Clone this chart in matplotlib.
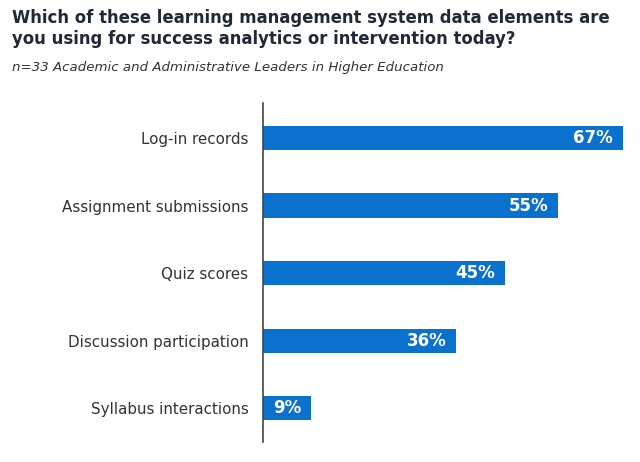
"""
Horizontal bar chart: LMS data elements used for success analytics.
"""
import matplotlib
matplotlib.use('Agg')
import matplotlib.pyplot as plt
from matplotlib.transforms import offset_copy

categories = ['Log-in records', 'Assignment submissions', 'Quiz scores',
              'Discussion participation', 'Syllabus interactions']
values = [67, 55, 45, 36, 9]
value_labels = ['67%', '55%', '45%', '36%', '9%']

title = ('Which of these learning management system data elements are\n'
         'you using for success analytics or intervention today?')
subtitle = 'n=33 Academic and Administrative Leaders in Higher Education'

BAR_COLOR = '#0a72cc'
TEXT_COLOR = '#333333'
TITLE_COLOR = '#1f2a36'

plt.rcParams['font.family'] = ['DejaVu Sans']

fig = plt.figure(figsize=(6.4, 4.62), dpi=100)
W, H = 640, 462
ax = fig.add_axes([263 / W, 1 - 442 / H, (640 - 263) / W, (442 - 103) / H])

y = list(range(len(categories)))
ax.barh(y, values, height=0.36, color=BAR_COLOR)
ax.set_xlim(0, 377 / 5.37)
ax.set_ylim(4.5, -0.52)

for yi, v, lab in zip(y, values, value_labels):
    tr = offset_copy(ax.transData, fig=fig, x=-10, y=0, units='dots')
    ax.text(v, yi, lab, transform=tr, ha='right', va='center',
            color='white', fontsize=12, fontweight='bold')

ax.set_yticks(y)
ax.set_yticklabels(categories, fontsize=10.9, color=TEXT_COLOR)
ax.tick_params(axis='y', length=0, pad=10.5)
ax.set_xticks([])
for side in ['top', 'right', 'bottom']:
    ax.spines[side].set_visible(False)
ax.spines['left'].set_color('#444444')
ax.spines['left'].set_linewidth(1.2)

fig.text(12 / W, 1 - 9 / H, title, ha='left', va='top', fontsize=11.9,
         fontweight='bold', color=TITLE_COLOR, linespacing=1.25)
fig.text(12 / W, 1 - 68 / H, subtitle, ha='left', va='center', fontsize=9.65,
         style='italic', color=TEXT_COLOR)

fig.savefig('out.png', dpi=100)
